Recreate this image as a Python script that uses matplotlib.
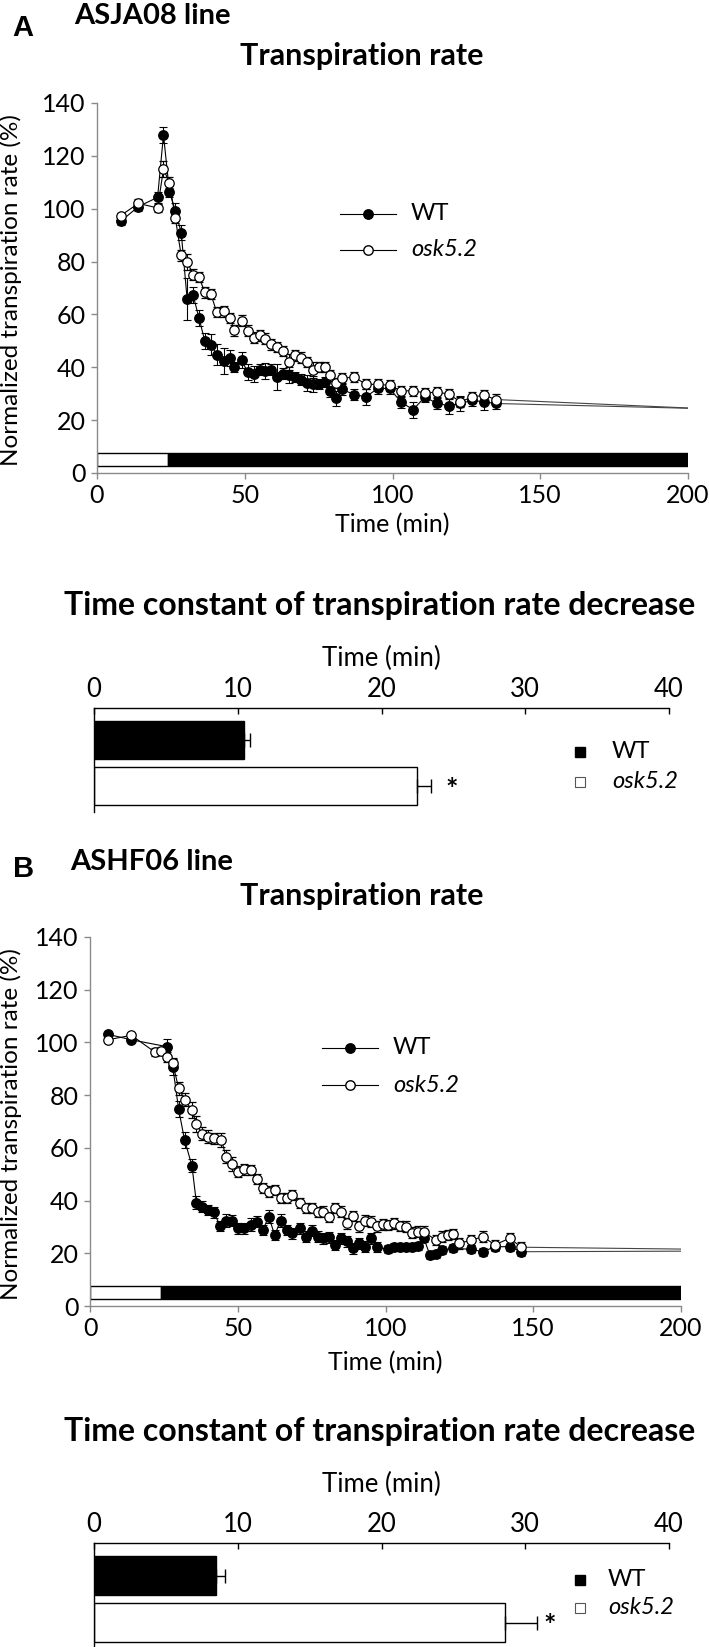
import numpy as np
import matplotlib.pyplot as plt
from matplotlib.lines import Line2D

plt.rcParams['font.family'] = ['Lato', 'DejaVu Sans']

# ---- panel A (ASJA08 line) ----
a_time = [8, 14, 20.5, 22.5, 24.5, 26.5, 28.5, 30.5, 32.5, 34.5, 36.5, 38.5, 40.5, 43, 45, 46.5,
          49, 51, 53, 55, 57, 59, 61, 63, 65, 67, 69, 71, 73, 75, 77, 79, 81, 83, 87, 91, 95, 99,
          103, 107, 111, 115, 119, 123, 127, 131, 135]
a_wt = [95.2, 100.8, 104.3, 127.9, 106.5, 99.2, 91, 65.8, 67.4, 58.7, 49.9, 48.6, 44.8, 42.4, 43.5,
        40.1, 42.6, 38.1, 37.6, 39.1, 38.6, 39.1, 36.3, 37.6, 37.0, 36.3, 35.3, 34.1, 33.6, 33.6, 34.5,
        30.9, 28.2, 31.6, 29.7, 28.8, 32, 32, 26.7, 24.0, 28.8, 26.3, 25.5, 26.3, 27.5, 26.9, 26.3]
a_wt_err = [1.5, 1.5, 2, 3, 2, 3, 3, 8, 3, 3, 3, 4, 4, 5, 3, 2, 3, 3, 3, 2, 3, 2, 5, 2, 3, 2, 2, 3,
            3, 2, 2, 2, 3, 2, 2, 3, 2, 2, 2, 3, 2, 2, 3, 3, 2, 3, 2]
a_osk = [97.4, 102, 100.3, 115, 109.9, 96.5, 82.3, 80, 75.1, 74.1, 68.4, 67.8, 60.9, 61.2, 58.7,
         54.0, 57.7, 53.9, 51.2, 52.1, 50.8, 48.7, 47.7, 46.2, 42.0, 44.5, 43.7, 42.0, 38.9, 40.1,
         40.1, 37.0, 34.1, 35.9, 36.3, 33.6, 33.5, 33.2, 31.1, 31.1, 30.3, 30.6, 29.9, 26.9, 28.8,
         29.4, 27.8]
a_osk_err = [1, 1.5, 1.5, 3, 2, 2, 2, 3, 2, 2, 2, 2, 2, 2, 2, 2, 2, 2, 2, 2, 2, 2, 2, 2, 3, 2, 2,
             2, 3, 2, 2, 2, 2, 2, 2, 2, 2, 2, 2, 2, 2, 2, 2, 2, 2, 2, 2]
a_fit_end = {'WT': 24.5, 'osk5.2': 24.6}

# ---- panel B (ASHF06 line) ----
b_wt_time = [6, 14, 26, 28, 30, 32, 34.5, 36, 38, 40, 42, 44, 46, 48, 50, 52, 54.5, 56.5, 58.5,
             60.5, 62.5, 64.5, 66.5, 68.5, 71, 73, 75, 77, 79, 81, 83, 85, 87, 89, 91, 93, 95, 97,
             101, 103, 105, 107, 109, 111, 113, 115, 117, 119, 123, 129, 133, 137, 142, 146]
b_wt = [103.1, 101, 98.4, 90.8, 74.6, 63, 53.2, 39.2, 37.7, 36.4, 35.5, 30.4, 32.4, 32.4, 29.5,
        29.5, 30.8, 32.0, 28.9, 33.9, 26.9, 32.4, 28.9, 27.6, 29.5, 26.3, 28.6, 26.3, 25.7, 26.0,
        23.1, 25.7, 24.5, 21.9, 23.8, 22.5, 25.7, 22.3,
        21.5, 22.3, 22.3, 22.5, 22.3, 22.8, 25.7, 19.4, 19.6, 21.2, 21.9, 21.5, 20.6, 22.5, 22.5, 20.6]
b_wt_err = [1, 1, 3, 3, 3, 3, 2.5, 2.5, 2, 2, 2, 2, 2.5, 2, 2, 2, 2.5, 2, 2, 2.5, 2, 2.5, 2, 2,
            2, 2, 2, 2, 2, 2, 2, 2, 2, 2, 2, 2, 2, 2,
            1.5, 1.5, 1.5, 1.5, 1.5, 1.5, 1.5, 1.5, 1.5, 1.5, 1.5, 1.5, 1.5, 1.5, 1.5, 1.5]
b_osk_time = [6, 14, 22, 24, 26, 28, 30, 32, 34.5, 36, 38, 40, 42, 44.5, 46, 48, 50, 52, 54.5,
              56.5, 58.5, 60.5, 62.5, 64.5, 66.5, 68.5, 71, 73, 75, 77, 79, 81, 83, 85, 87, 89,
              91, 93, 95, 97, 99, 101, 103, 105, 107, 109, 111, 113, 117, 119, 121, 123, 125, 129,
              133, 137, 142, 146]
b_osk = [101, 102.7, 96.3, 96.6, 94.4, 92.1, 82.6, 78.2, 74.4, 69.0, 65.3, 64.3, 63.6, 63.0,
         56.7, 53.9, 51.0, 51.8, 51.6, 48.1, 44.7, 43.4, 44.0, 40.9, 40.9, 42.1, 39.0, 37.1, 37.1,
         35.6, 35.8, 33.7, 37.1, 35.8, 31.4, 34.2, 30.2, 32.4, 32.0, 30.2,
         31.0, 30.7, 31.4, 30.3, 30.1, 27.8, 28.2, 28.2, 25.0, 26.3, 27.0, 27.4, 23.8, 25.0, 26.3,
         23.2, 25.7, 22.3]
b_osk_err = [1, 1, 1.5, 1.5, 2, 2, 2.5, 2.5, 3, 3, 2.5, 2.5, 2, 2.5, 2.5, 2.5, 2, 2, 2, 2, 2, 2,
             2, 2, 2, 2, 2, 2, 2, 2, 2, 2, 2, 2, 2, 2, 2, 2, 2, 2,
             2, 2, 2, 2, 2, 2, 2, 2, 2, 2, 2, 2, 2, 2, 2, 2, 2, 2]
b_fit_end = {'WT': 20.8, 'osk5.2': 21.6}

# light / dark period bar (min)
light_end = 24
time_max = 200

# ---- time constants ----
genotypes = ['WT', 'osk5.2']
a_tau = [10.4, 22.5]
a_tau_err = [0.45, 0.95]
b_tau = [8.5, 28.6]
b_tau_err = [0.6, 2.2]

W, H = 709, 1647
fig = plt.figure(figsize=(W / 100, H / 100), dpi=100)
AX_GRAY = '#8a8a8a'
TICK_FS = 18
LABEL_FS = 18


def px_axes(left, top, right, bottom):
    return fig.add_axes([left / W, 1 - bottom / H, (right - left) / W, (bottom - top) / H])


def ftext(x, y, s, **kw):
    fig.text(x / W, 1 - y / H, s, **kw)


def fline(xs, y, **kw):
    fig.add_artist(Line2D([x / W for x in xs], [1 - y / H] * len(xs),
                          transform=fig.transFigure, **kw))


def line_panel(ax, wt_t, wt, wt_e, osk_t, osk, osk_e, fit_end):
    ax.plot([wt_t[-1], time_max], [wt[-1], fit_end['WT']], color='#444444', lw=0.8)
    ax.plot([osk_t[-1], time_max], [osk[-1], fit_end['osk5.2']], color='#444444', lw=0.8)
    ax.errorbar(wt_t, wt, yerr=wt_e, fmt='-o', color='black', mfc='black', mec='black',
                ms=6.8, lw=0.8, elinewidth=0.8, capsize=3, capthick=0.8, zorder=3)
    ax.errorbar(osk_t, osk, yerr=osk_e, fmt='-o', color='black', mfc='white', mec='black',
                ms=6.8, lw=0.8, mew=0.9, elinewidth=0.8, capsize=3, capthick=0.8, zorder=4)
    # light (white) / dark (black) period bar
    ax.barh(5, light_end, left=0, height=5, color='white', edgecolor='black', lw=1, zorder=2)
    ax.barh(5, time_max - light_end, left=light_end, height=5, color='black',
            edgecolor='black', lw=1, zorder=2)
    ax.set_xlim(0, time_max)
    ax.set_ylim(0, 140)
    ax.set_xticks(range(0, 201, 50))
    ax.set_yticks(range(0, 141, 20))
    for s in ['top', 'right']:
        ax.spines[s].set_visible(False)
    for s in ['left', 'bottom']:
        ax.spines[s].set_color(AX_GRAY)
        ax.spines[s].set_linewidth(1)
    ax.tick_params(direction='out', length=4, width=1, color=AX_GRAY, labelsize=TICK_FS, pad=4)
    ax.patch.set_alpha(0)


def bar_panel(ax, tau, tau_err, star_gap):
    ax.barh([0], [tau[0]], xerr=[[0], [tau_err[0]]], height=0.83, color='black',
            edgecolor='black', lw=1, error_kw=dict(elinewidth=1, capsize=5, capthick=1))
    ax.barh([1], [tau[1]], xerr=[[0], [tau_err[1]]], height=0.83, color='white',
            edgecolor='black', lw=1, error_kw=dict(elinewidth=1, capsize=5, capthick=1))
    ax.text(tau[1] + tau_err[1] + star_gap, 1.08, '*', fontsize=21, fontweight='bold',
            ha='left', va='center')
    ax.set_xlim(0, 40)
    ax.set_ylim(1.56, -0.7)
    ax.xaxis.tick_top()
    ax.set_xticks(range(0, 41, 10))
    ax.set_yticks([])
    for s in ['bottom', 'right']:
        ax.spines[s].set_visible(False)
    for s in ['top', 'left']:
        ax.spines[s].set_linewidth(1)
    ax.tick_params(axis='x', direction='in', length=4, width=1, labelsize=18.5, pad=4)
    ax.patch.set_alpha(0)


def line_legend(x_mid, y1, y2):
    fline([x_mid - 28, x_mid, x_mid + 28], y1, color='black', lw=0.8, marker='o', ms=6.8,
          mfc='black', mec='black', markevery=[1])
    fline([x_mid - 28, x_mid, x_mid + 28], y2, color='black', lw=0.8, marker='o', ms=6.8,
          mfc='white', mec='black', markevery=[1])
    ftext(x_mid + 43, y1, genotypes[0], fontsize=17, va='center')
    ftext(x_mid + 43, y2, genotypes[1], fontsize=17, va='center', style='italic')


def bar_legend(x_sq, x_txt, y1, y2):
    fline([x_sq], y1, marker='s', ms=7.5, mfc='black', mec='black', lw=0)
    fline([x_sq], y2, marker='s', ms=7.5, mfc='white', mec='#555555', mew=0.8, lw=0)
    ftext(x_txt, y1, genotypes[0], fontsize=17, va='center')
    ftext(x_txt, y2, genotypes[1], fontsize=17, va='center', style='italic')


title_kw = dict(fontsize=22, fontweight='bold', ha='center', va='center')
bar_title_kw = dict(fontsize=23, fontweight='bold', ha='center', va='center')
letter_kw = dict(fontsize=21, fontweight='bold', va='center', family=['Liberation Sans'])
ylab = 'Normalized transpiration rate (%)'

# ===== Panel A =====
ftext(12, 28, 'A', **letter_kw)
ftext(74, 16, 'ASJA08 line', fontsize=21, fontweight='bold', va='center')
ftext(362, 56, 'Transpiration rate', **title_kw)
ax1 = px_axes(97, 103, 688, 473)
line_panel(ax1, a_time, a_wt, a_wt_err, a_time, a_osk, a_osk_err, a_fit_end)
ftext(392, 525, 'Time (min)', fontsize=LABEL_FS, ha='center', va='center')
ftext(11, 290, ylab, fontsize=17.5, rotation=90, ha='center', va='center')
line_legend(368, 214, 250)

ftext(380, 606, 'Time constant of transpiration rate decrease', **bar_title_kw)
ftext(381, 658, 'Time (min)', fontsize=18.5, ha='center', va='center')
ax2 = px_axes(94, 707.5, 669, 812)
bar_panel(ax2, a_tau, a_tau_err, 1.0)
bar_legend(580, 612, 752, 782)

# ===== Panel B =====
ftext(13, 869, 'B', **letter_kw)
ftext(70, 862, 'ASHF06 line', fontsize=21, fontweight='bold', va='center')
ftext(362, 896, 'Transpiration rate', **title_kw)
ax3 = px_axes(90, 937, 681, 1306)
line_panel(ax3, b_wt_time, b_wt, b_wt_err, b_osk_time, b_osk, b_osk_err, b_fit_end)
ftext(385, 1363, 'Time (min)', fontsize=LABEL_FS, ha='center', va='center')
ftext(11, 1124, ylab, fontsize=17.5, rotation=90, ha='center', va='center')
line_legend(350, 1048, 1085)

ftext(380, 1432, 'Time constant of transpiration rate decrease', **bar_title_kw)
ftext(381, 1484, 'Time (min)', fontsize=18.5, ha='center', va='center')
ax4 = px_axes(94, 1543, 669, 1647)
bar_panel(ax4, b_tau, b_tau_err, 0.5)
ax4.set_ylim(1.52, -0.7)
bar_legend(580, 608, 1580, 1608)

fig.savefig('out.png', dpi=100)
